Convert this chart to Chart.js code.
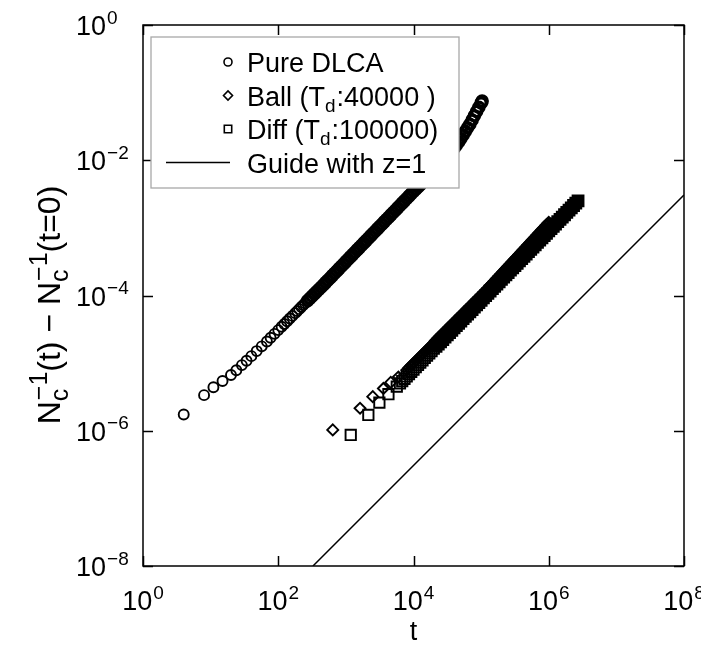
<!DOCTYPE html>
<html>
<head>
<meta charset="utf-8">
<script src="https://cdn.jsdelivr.net/npm/chart.js@4.4.0/dist/chart.umd.min.js"></script>
<style>
  html, body { margin: 0; padding: 0; background: #fff; }
</style>
</head>
<body>
<canvas id="chart" width="701" height="645"></canvas>
<script>
// Pure DLCA
const dlcaT = [4, 8, 11, 15, 20, 24, 29, 34, 40, 48, 57, 68,
  77, 88, 100, 112, 123, 135, 148, 162, 178, 191, 204, 219, 234, 249,
  271, 293, 316, 341, 368, 398, 430,
  464, 501, 541, 585, 631, 681, 736, 794, 858, 926, 1000, 1080, 1166, 1259, 1359, 1468, 1585, 1711, 1848, 1995,
  2154, 2326, 2512, 2712, 2929, 3162, 3415, 3687, 3981, 4299, 4642, 5012, 5412, 5843, 6310, 6813, 7356, 7943, 8577, 9261, 10000,
  10800, 11660, 12590, 13590, 14680, 15850, 17110, 18480, 19950, 21540, 23260, 25120, 27120, 29290, 31620, 34150,
  36870, 39810, 42990, 46420, 50120, 54120, 58430, 63100, 68130, 73560, 79430, 85770, 92610, 100000, 103500];
const dlcaN = [1.74e-6, 3.36e-6, 4.40e-6, 5.43e-6, 6.68e-6, 7.83e-6, 9.35e-6, 1.087e-5, 1.268e-5, 1.507e-5, 1.77e-5, 2.09e-5,
  2.37e-5, 2.71e-5, 3.08e-5, 3.45e-5, 3.79e-5, 4.16e-5, 4.56e-5, 4.99e-5, 5.48e-5, 5.88e-5, 6.28e-5, 6.75e-5, 7.21e-5, 7.67e-5,
  8.36e-5, 9.04e-5, 9.75e-5, 1.052e-4, 1.135e-4, 1.228e-4, 1.327e-4,
  1.430e-4, 1.549e-4, 1.677e-4, 1.816e-4, 1.967e-4, 2.130e-4, 2.306e-4, 2.498e-4, 2.704e-4, 2.928e-4, 3.171e-4, 3.434e-4,
  3.718e-4, 4.026e-4, 4.360e-4, 4.721e-4, 5.112e-4, 5.536e-4, 5.994e-4, 6.491e-4, 7.029e-4, 7.611e-4, 8.241e-4, 8.924e-4,
  9.663e-4, 1.046e-3, 1.133e-3, 1.227e-3, 1.328e-3, 1.438e-3, 1.557e-3, 1.687e-3, 1.826e-3, 1.978e-3, 2.142e-3, 2.319e-3,
  2.512e-3, 2.720e-3, 2.944e-3, 3.189e-3, 3.453e-3,
  3.727e-3, 4.024e-3, 4.345e-3, 4.691e-3, 5.066e-3, 5.470e-3, 5.906e-3, 6.378e-3, 6.887e-3, 7.436e-3, 8.030e-3, 8.670e-3,
  9.434e-3, 1.027e-2, 1.117e-2, 1.216e-2, 1.352e-2, 1.505e-2, 1.676e-2, 1.866e-2, 2.087e-2, 2.360e-2, 2.669e-2, 3.018e-2,
  3.411e-2, 3.930e-2, 4.548e-2, 5.26e-2, 6.085e-2, 7.04e-2, 7.5e-2];

// Ball (Td = 40000)
const ballT = [640, 1620, 2500, 3590, 4610, 5980,
  7943, 8577, 9261, 10000, 10800, 11660, 12590, 13590, 14680, 15850, 17110, 18480, 19950, 21540, 23260, 25120, 27120,
  29290, 31620, 34150, 36870, 39810, 42990, 46420, 50120, 54120, 58430, 63100, 68130, 73560, 79430, 85770, 92610,
  100000, 108000, 116600, 125900, 135900, 146800, 158500, 171100, 184800, 199500, 215400, 232600, 251200, 271200,
  292900, 316200, 341500, 368700, 398100, 429900, 464200, 501200, 541200, 584300, 631000, 681300, 735600, 794300,
  857700, 926100, 1000000];
const ballN = [1.03e-6, 2.15e-6, 3.19e-6, 4.22e-6, 5.19e-6, 6.24e-6,
  7.90e-6, 8.53e-6, 9.21e-6, 9.95e-6, 1.075e-5, 1.160e-5, 1.253e-5, 1.352e-5, 1.461e-5, 1.577e-5, 1.702e-5, 1.839e-5,
  1.985e-5, 2.143e-5, 2.314e-5, 2.499e-5, 2.698e-5, 2.914e-5, 3.146e-5, 3.398e-5, 3.669e-5, 3.961e-5, 4.277e-5,
  4.619e-5, 4.987e-5, 5.385e-5, 5.814e-5, 6.278e-5, 6.779e-5, 7.319e-5, 7.903e-5, 8.534e-5, 9.215e-5,
  9.95e-5, 1.075e-4, 1.160e-4, 1.262e-4, 1.371e-4, 1.489e-4, 1.618e-4, 1.758e-4, 1.910e-4, 2.075e-4, 2.254e-4,
  2.449e-4, 2.661e-4, 2.891e-4, 3.141e-4, 3.412e-4, 3.707e-4, 4.027e-4, 4.375e-4, 4.753e-4, 5.164e-4, 5.610e-4,
  6.095e-4, 6.622e-4, 7.194e-4, 7.816e-4, 8.492e-4, 9.226e-4, 1.002e-3, 1.089e-3, 1.183e-3];

// Diff (Td = 100000)
const diffT = [1180, 2150, 3130, 4260, 5660,
  6310, 6813, 7356, 7943, 8577, 9261, 10000, 10800, 11660, 12590, 13590, 14680, 15850, 17110, 18480, 19950, 21540,
  23260, 25120, 27120, 29290, 31620, 34150, 36870, 39810, 42990, 46420, 50120, 54120, 58430, 63100, 68130, 73560,
  79430, 85770, 92610, 100000, 108000, 116600, 125900, 135900, 146800, 158500, 171100, 184800, 199500, 215400,
  232600, 251200, 271200, 292900, 316200, 341500, 368700, 398100, 429900, 464200, 501200, 541200, 584300, 631000,
  681300, 735600, 794300, 857700, 926100, 1000000, 1080000, 1166000, 1259000, 1359000, 1468000, 1585000, 1711000,
  1848000, 1995000, 2154000, 2326000, 2512000, 2712000];
const diffN = [8.67e-7, 1.714e-6, 2.606e-6, 3.467e-6, 4.487e-6,
  5.013e-6, 5.425e-6, 5.867e-6, 6.348e-6, 6.868e-6, 7.430e-6, 8.038e-6, 8.694e-6, 9.408e-6, 1.018e-5, 1.101e-5,
  1.191e-5, 1.289e-5, 1.394e-5, 1.508e-5, 1.632e-5, 1.765e-5, 1.910e-5, 2.066e-5, 2.235e-5, 2.418e-5, 2.616e-5,
  2.830e-5, 3.062e-5, 3.313e-5, 3.584e-5, 3.877e-5, 4.195e-5, 4.538e-5, 4.909e-5, 5.311e-5, 5.745e-5, 6.215e-5,
  6.724e-5, 7.273e-5, 7.870e-5, 8.514e-5, 9.211e-5, 9.965e-5, 1.078e-4, 1.166e-4, 1.262e-4, 1.365e-4, 1.477e-4,
  1.597e-4, 1.728e-4, 1.869e-4, 2.023e-4, 2.188e-4, 2.367e-4, 2.561e-4, 2.771e-4, 2.998e-4, 3.243e-4, 3.509e-4,
  3.795e-4, 4.106e-4, 4.442e-4, 4.806e-4, 5.200e-4, 5.625e-4, 6.085e-4, 6.584e-4, 7.123e-4, 7.705e-4, 8.337e-4,
  9.020e-4, 9.757e-4, 1.056e-3, 1.142e-3, 1.235e-3, 1.337e-3, 1.446e-3, 1.564e-3, 1.692e-3, 1.831e-3, 1.981e-3,
  2.143e-3, 2.319e-3, 2.508e-3];

// z=1 guide line end points
const guideT = [326, 1e8];
const guideN = [1e-8, 3.07e-3];

// major ticks and their exponents
const xTicks = [1, 1e2, 1e4, 1e6, 1e8];
const xExps = ['0', '2', '4', '6', '8'];
const yTicks = [1e-8, 1e-6, 1e-4, 1e-2, 1];
const yExps = ['\u22128', '\u22126', '\u22124', '\u22122', '0'];

const FACE = '"Liberation Sans", Arial, Helvetica, sans-serif';
const SIZE = 27;
const SCRIPT = 0.72;
const TICK = 10;

function pts(xs, ys) {
    return xs.map((x, i) => ({ x: x, y: ys[i] }));
}

// where the samples pile up, the outlines are drawn heavier so the run reads as solid
function heavyAfter(limit, thin, thick) {
    return c => (c.raw && c.raw.x >= limit ? thick : thin);
}

// text with sub/superscripts: plain strings, or {sub, sup} stacked at the same spot
function richWidth(ctx, parts, size, script) {
    let w = 0;
    parts.forEach(p => {
        if (typeof p === 'string') {
            ctx.font = size + 'px ' + FACE;
            w += ctx.measureText(p).width;
        } else {
            ctx.font = Math.round(size * script) + 'px ' + FACE;
            const a = p.sub ? ctx.measureText(p.sub).width : 0;
            const b = p.sup ? ctx.measureText(p.sup).width : 0;
            w += Math.max(a, b) + 1;
        }
    });
    return w;
}

function drawRich(ctx, parts, x, y, size, align, script) {
    script = script || SCRIPT;
    const w = richWidth(ctx, parts, size, script);
    let cx = x;
    if (align === 'right') cx = x - w;
    if (align === 'center') cx = x - w / 2;
    ctx.textAlign = 'left';
    ctx.textBaseline = 'alphabetic';
    parts.forEach(p => {
        if (typeof p === 'string') {
            ctx.font = size + 'px ' + FACE;
            ctx.fillText(p, cx, y);
            cx += ctx.measureText(p).width;
        } else {
            ctx.font = Math.round(size * script) + 'px ' + FACE;
            let a = 0, b = 0;
            if (p.sub) {
                ctx.fillText(p.sub, cx, y + size * 0.24);
                a = ctx.measureText(p.sub).width;
            }
            if (p.sup) {
                ctx.fillText(p.sup, cx + 1, y - size * 0.42);
                b = ctx.measureText(p.sup).width;
            }
            cx += Math.max(a, b) + 1;
        }
    });
}

function drawMarker(ctx, style, x, y) {
    ctx.beginPath();
    if (style === 'circle') {
        ctx.arc(x, y, 4, 0, Math.PI * 2);
    } else if (style === 'diamond') {
        ctx.moveTo(x - 4.5, y);
        ctx.lineTo(x, y - 4.5);
        ctx.lineTo(x + 4.5, y);
        ctx.lineTo(x, y + 4.5);
        ctx.closePath();
    } else if (style === 'square') {
        ctx.rect(x - 3.7, y - 3.7, 7.4, 7.4);
    } else {
        ctx.moveTo(x - 62, y);
        ctx.lineTo(x + 2, y);
    }
    ctx.stroke();
}

const legendRows = [
    { style: 'circle', parts: ['Pure DLCA'] },
    { style: 'diamond', parts: ['Ball (T', { sub: 'd' }, ':40000 )'] },
    { style: 'square', parts: ['Diff (T', { sub: 'd' }, ':100000)'] },
    { style: 'line', parts: ['Guide with z=1'] }
];

const framePlugin = {
    id: 'frame',
    afterDraw(chart) {
        const ctx = chart.ctx;
        const a = chart.chartArea;
        const xs = chart.scales.x;
        const ys = chart.scales.y;
        ctx.save();
        ctx.strokeStyle = '#000';
        ctx.fillStyle = '#000';
        ctx.lineWidth = 1.5;
        ctx.strokeRect(a.left, a.top, a.right - a.left, a.bottom - a.top);

        // inward ticks on all four sides
        ctx.beginPath();
        xTicks.forEach(v => {
            const px = Math.round(xs.getPixelForValue(v)) + 0.5;
            ctx.moveTo(px, a.bottom); ctx.lineTo(px, a.bottom - TICK);
            ctx.moveTo(px, a.top); ctx.lineTo(px, a.top + TICK);
        });
        yTicks.forEach(v => {
            const py = Math.round(ys.getPixelForValue(v)) + 0.5;
            ctx.moveTo(a.left, py); ctx.lineTo(a.left + TICK, py);
            ctx.moveTo(a.right, py); ctx.lineTo(a.right - TICK, py);
        });
        ctx.stroke();

        xTicks.forEach((v, i) => {
            drawRich(ctx, ['10', { sup: xExps[i] }], xs.getPixelForValue(v), a.bottom + 44, SIZE, 'center');
        });
        yTicks.forEach((v, i) => {
            drawRich(ctx, ['10', { sup: yExps[i] }], 76, ys.getPixelForValue(v) + 10, SIZE, 'left');
        });

        // axis titles
        drawRich(ctx, ['t'], (a.left + a.right) / 2, 640, SIZE, 'center');
        ctx.save();
        ctx.translate(60, 305);
        ctx.rotate(-Math.PI / 2);
        drawRich(ctx, ['N', { sub: 'c', sup: '\u22121' }, '(t) \u2212 N', { sub: 'c', sup: '\u22121' }, '(t=0)'], 0, 0, 32, 'center', 0.78);
        ctx.restore();

        // key box, drawn over the data
        ctx.fillStyle = '#fff';
        ctx.fillRect(151, 37, 308, 151);
        ctx.strokeStyle = '#a8a8a8';
        ctx.lineWidth = 1.3;
        ctx.strokeRect(151, 37, 308, 151);
        ctx.fillStyle = '#000';
        ctx.strokeStyle = '#000';
        legendRows.forEach((row, i) => {
            const base = 72 + i * 33.5;
            ctx.lineWidth = row.style === 'line' ? 1.4 : 1.6;
            drawMarker(ctx, row.style, 228, base - 10);
            drawRich(ctx, row.parts, 247, base, SIZE, 'left');
        });
        ctx.restore();
    }
};

const markerBase = {
    showLine: false,
    borderColor: '#000',
    backgroundColor: 'rgba(0,0,0,0)'
};

new Chart(document.getElementById('chart'), {
    type: 'scatter',
    data: {
        datasets: [
            Object.assign({
                label: 'Pure DLCA', data: pts(dlcaT, dlcaN), pointStyle: 'circle',
                pointRadius: heavyAfter(250, 5, 5.1), pointBorderWidth: heavyAfter(250, 1.9, 3.4)
            }, markerBase),
            Object.assign({
                label: 'Ball', data: pts(ballT, ballN), pointStyle: 'rectRot',
                pointRadius: heavyAfter(20000, 5.5, 5.2), pointBorderWidth: heavyAfter(20000, 1.9, 3.2)
            }, markerBase),
            Object.assign({
                label: 'Diff', data: pts(diffT, diffN), pointStyle: 'rect',
                pointRadius: heavyAfter(20000, 7.3, 6.8), pointBorderWidth: heavyAfter(20000, 1.9, 3.2)
            }, markerBase),
            {
                label: 'Guide with z=1',
                data: pts(guideT, guideN),
                showLine: true,
                borderColor: '#000',
                borderWidth: 1.5,
                pointRadius: 0
            }
        ]
    },
    options: {
        responsive: false,
        animation: false,
        devicePixelRatio: 1,
        events: [],
        layout: { padding: { left: 143, right: 17, top: 25, bottom: 79 } },
        plugins: {
            legend: { display: false },
            tooltip: { enabled: false }
        },
        scales: {
            x: { type: 'logarithmic', min: 1, max: 1e8, display: false },
            y: { type: 'logarithmic', min: 1e-8, max: 1, display: false }
        }
    },
    plugins: [framePlugin]
});
</script>
</body>
</html>
